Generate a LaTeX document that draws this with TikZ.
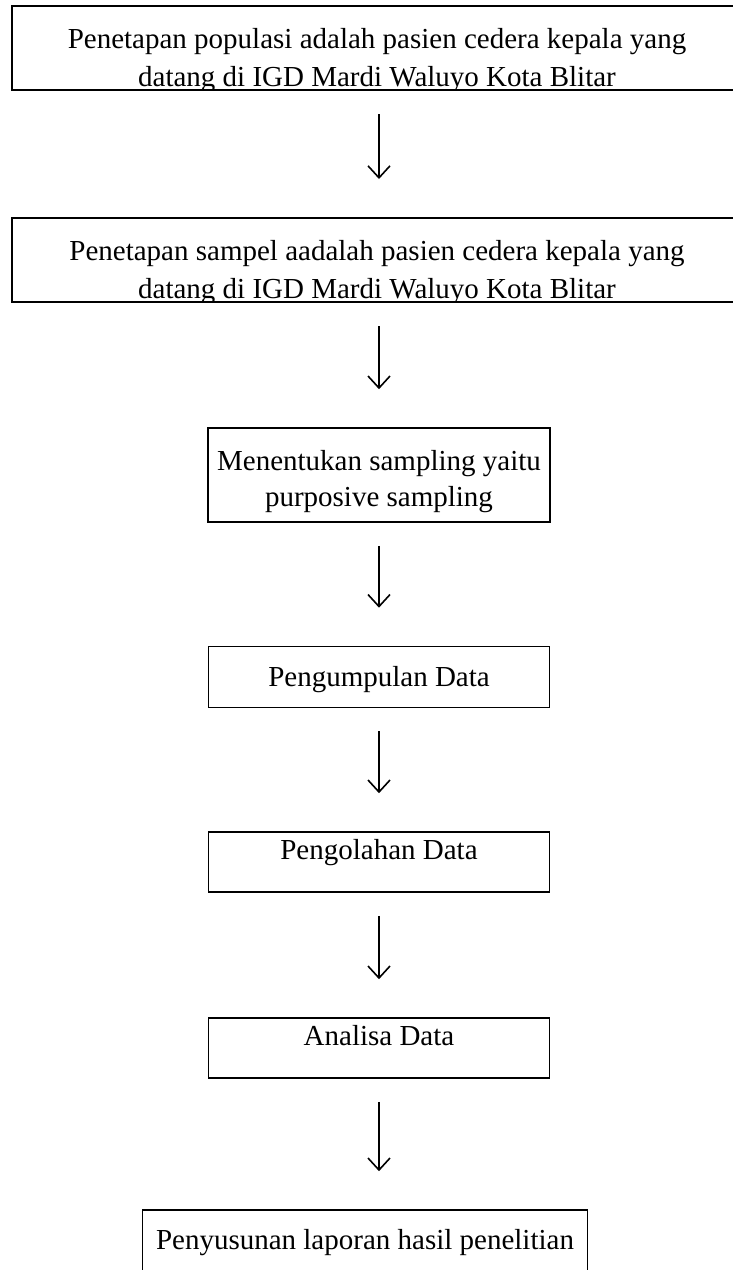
\documentclass[tikz,border=0pt]{standalone}
\usepackage{fontspec}
\setmainfont{Liberation Serif}
\usetikzlibrary{arrows.meta}
\begin{document}
\begin{tikzpicture}[x=1pt,y=-1pt,
  box/.style={draw=black, line width=1.6pt, rectangle, inner sep=0pt},
  wide/.style={box, line width=2pt},
  txt/.style={font=\fontsize{29}{36}\selectfont, align=center, inner sep=0pt, anchor=base},
  txtw/.style={txt, font=\fontsize{29}{38}\selectfont},
  flow/.style={line width=1.6pt, -{Straight Barb[length=12pt,width=22pt,line width=1.6pt]}, shorten <=23pt, shorten >=38pt}]
\useasboundingbox (0,0) rectangle (732,1270);
% boxes
\node[wide, minimum width=730pt, minimum height=84pt] (b1) at (377,48) {};
\node[wide, minimum width=730pt, minimum height=84pt] (b2) at (377,260) {};
\node[box, minimum width=342pt, minimum height=94pt] (b3) at (379,475) {};
\node[box, minimum width=341pt, minimum height=61pt] (b4) at (379,677) {};
\node[box, minimum width=341pt, minimum height=60pt] (b5) at (379,862) {};
\node[box, minimum width=341pt, minimum height=60pt] (b6) at (379,1048) {};
\node[box, minimum width=445pt, minimum height=62pt] (b7) at (365,1241) {};
% texts (clipped at box bottom in the top two boxes)
\begin{scope}
\clip (0,0) rectangle (732,90);
\node[txtw] (t1) at (377,86) {Penetapan populasi adalah pasien cedera kepala yang\\datang di IGD Mardi Waluyo Kota Blitar};
\end{scope}
\begin{scope}
\clip (0,210) rectangle (732,302);
\node[txtw] (t2) at (377,298) {Penetapan sampel aadalah pasien cedera kepala yang\\datang di IGD Mardi Waluyo Kota Blitar};
\end{scope}
\node[txt] (t3) at (379,506) {Menentukan sampling yaitu\\purposive sampling};
\node[txt] (t4) at (379,686) {Pengumpulan Data};
\node[txt] (t5) at (379,859) {Pengolahan Data};
\node[txt] (t6) at (379,1045) {Analisa Data};
\node[txt] (t7) at (365,1249) {Penyusunan laporan hasil penelitian};
% arrows
\draw[flow] (b1.south -| 379,0) -- (b2.north -| 379,0);
\draw[flow] (b2.south -| 379,0) -- (b3.north -| 379,0);
\draw[flow] (b3.south -| 379,0) -- (b4.north -| 379,0);
\draw[flow] (b4.south -| 379,0) -- (b5.north -| 379,0);
\draw[flow] (b5.south -| 379,0) -- (b6.north -| 379,0);
\draw[flow] (b6.south -| 379,0) -- (b7.north -| 379,0);
\end{tikzpicture}
\end{document}
